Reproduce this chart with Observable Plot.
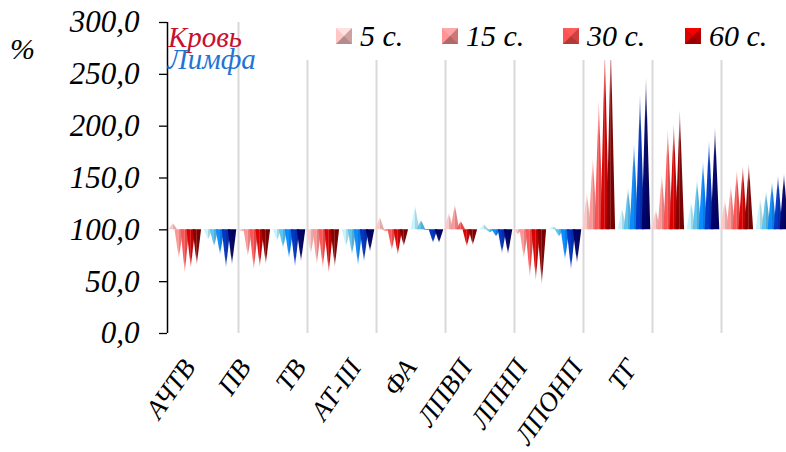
<!DOCTYPE html>
<html><head><meta charset="utf-8">
<script src="https://cdn.jsdelivr.net/npm/d3@7"></script>
<script src="https://cdn.jsdelivr.net/npm/@observablehq/plot@0.6"></script>
<style>
html,body{margin:0;padding:0;background:#fff;overflow:hidden;}
#wrap{position:relative;width:786px;height:452px;overflow:hidden;}
#wrap svg{overflow:hidden;}
.t{position:absolute;font-family:"Liberation Serif","Times New Roman",serif;font-style:italic;white-space:nowrap;line-height:1;}
.mk{position:absolute;width:0;height:0;border-style:solid;border-width:8.5px;}
</style></head><body><div id="wrap"></div>
<script>
// ---- data ----
const categories = ["АЧТВ","ПВ","ТВ","АТ-III","ФА","ЛПВП","ЛПНП","ЛПОНП","ТГ"];
const legendLabels = ["5 с.","15 с.","30 с.","60 с."];
const groupLabels = ["Кровь","Лимфа"];
const yTicks = [0,50,100,150,200,250,300];
const baseline = 100;

// Blood (red), five time series
const blood1 = [106, 98, 76, 112, 116, 95, 135, 119, 128.5];
const blood2 = [72, 74, 66, 98, 124, 72, 169, 153, 142];
const blood3 = [58, 61, 63, 80, 108, 54, 225, 197, 157];
const blood4 = [63, 64, 58, 75.5, 83.5, 51, 275, 202, 161];
const blood5 = [66, 66.5, 64, 84, 85, 47, 280, 215, 163];
// Lymph (blue), five time series
const lymph1 = [90, 89, 83.5, 123, 105, 103, 120.5, 127, 130];
const lymph2 = [83.5, 82, 75.5, 109, 97, 93, 140, 148, 137];
const lymph3 = [75.5, 72, 65, 99, 93, 70.6, 183, 166, 146];
const lymph4 = [63, 64, 69, 87, 77, 61, 231, 186, 152];
const lymph5 = [66, 69, 78.6, 87, 76, 67.5, 247, 198.5, 154];

const bloodColors = ["#ffc6c6","#ff9494","#ff5252","#dc0000","#870000"];
const lymphColors = ["#c4f4ff","#5cc4f0","#0a8aff","#0034c4","#00006a"];
const groupTextColors = ["#c8102e","#2273d6"];

// ---- layout ----
const W = 786, H = 452;
const left = 169, catPx = 69;
const hw = 4.3/catPx, step = 6/catPx, offs = [3.8/catPx, 39/catPx];
const serif = "'Liberation Serif','Times New Roman',serif";

const groups = [
  {vals:[blood1,blood2,blood3,blood4,blood5], colors: bloodColors, off: offs[0]},
  {vals:[lymph1,lymph2,lymph3,lymph4,lymph5], colors: lymphColors, off: offs[1]}
];

const gradDefs = [];
const spikeMarks = [];
groups.forEach((g, gi) => g.vals.forEach((series, s) => {
  const base = g.colors[s];
  const faces = [base, d3.color(base).darker(0.4).formatHex()];
  faces.forEach((col, f) => ["up","down"].forEach(dir => {
    const id = `g${gi}${s}${f}${dir}`;
    gradDefs.push({id, col, dir});
    const pts = [];
    series.forEach((v, c) => {
      if ((v >= baseline) !== (dir === "up")) return;
      const xc = c + g.off + s*step;
      if (f === 0) pts.push({x: xc-hw, y: baseline, b: baseline, id: c}, {x: xc, y: v, b: baseline, id: c});
      else pts.push({x: xc, y: v, b: baseline, id: c}, {x: xc+hw, y: baseline, b: baseline, id: c});
    });
    spikeMarks.push(Plot.areaY(pts, {x:"x", y1:"b", y2:"y", z:"id", fill:`url(#${id})`}));
  }));
}));

const svg = Plot.plot({
  width: W, height: H,
  marginLeft: 167, marginRight: 0, marginTop: 22, marginBottom: 119,
  x: {domain:[0,9], range:[left, left + 9*catPx], axis: null},
  y: {domain:[0,300]},
  style: {fontFamily: serif, background: "white"},
  marks: [
    Plot.ruleX(d3.range(1, 9), {y1: 0, y2: 300, stroke: "#d9d9d9", strokeWidth: 2}),
    ...spikeMarks,
    Plot.axisY({ticks: yTicks, tickFormat: d => d.toFixed(1).replace(".", ","), tickSize: 8, tickPadding: 20,
      fontSize: 31, fontStyle: "italic", fontFamily: serif, stroke: "#000", fill: "#000", strokeWidth: 1.3, label: null}),
    Plot.ruleX([0], {y1: 0, y2: 300, stroke: "#000", strokeWidth: 1.5, dx: -2}),
    Plot.text(categories, {x: (d, i) => (20 + 55.3*i)/catPx, y: () => 0, dy: 29, text: d => d,
      rotate: -55, textAnchor: "end", fontSize: 27, fontStyle: "italic", fontFamily: serif, fill: "#000"})
  ]
});

// gradients (fade toward spike tips)
const ns = "http://www.w3.org/2000/svg";
const defs = document.createElementNS(ns, "defs");
gradDefs.forEach(({id, col, dir}) => {
  const lg = document.createElementNS(ns, "linearGradient");
  lg.setAttribute("id", id);
  lg.setAttribute("x1", "0"); lg.setAttribute("x2", "0");
  lg.setAttribute("y1", dir === "up" ? "1" : "0");
  lg.setAttribute("y2", dir === "up" ? "0" : "1");
  [[0,1],[0.72,0.95],[1,0.3]].forEach(([o, a]) => {
    const st = document.createElementNS(ns, "stop");
    st.setAttribute("offset", o);
    st.setAttribute("stop-color", col);
    st.setAttribute("stop-opacity", a);
    lg.appendChild(st);
  });
  defs.appendChild(lg);
});
svg.insertBefore(defs, svg.firstChild);

const wrap = document.getElementById("wrap");
wrap.appendChild(svg);

// ---- overlays: legend and labels ----
function addText(txt, x, y, size, color) {
  const d = document.createElement("div");
  d.className = "t"; d.textContent = txt;
  d.style.left = x + "px"; d.style.top = y + "px";
  d.style.fontSize = size + "px"; d.style.color = color;
  wrap.appendChild(d);
  return d;
}
addText("%", 10, 34, 30, "#000");
// legend box (white, covers plot top)
const box = document.createElement("div");
box.style.cssText = "position:absolute;left:272px;top:10px;width:514px;height:50px;background:#fff;";
wrap.appendChild(box);
const legX = [336, 442, 563, 685];
legendLabels.forEach((lab, i) => {
  const c = d3.color(bloodColors[i]);
  const m = document.createElement("div");
  m.className = "mk";
  m.style.left = legX[i] + "px"; m.style.top = "28px";
  m.style.borderTopColor = c.brighter(0.35).formatHex();
  m.style.borderLeftColor = c.formatHex();
  m.style.borderRightColor = c.darker(0.6).formatHex();
  m.style.borderBottomColor = c.darker(1).formatHex();
  wrap.appendChild(m);
  addText(lab, legX[i] + 24, 21, 30, "#000");
});
addText(groupLabels[0], 168, 23, 29, groupTextColors[0]);
addText(groupLabels[1], 168, 45, 29, groupTextColors[1]);
</script></body></html>
